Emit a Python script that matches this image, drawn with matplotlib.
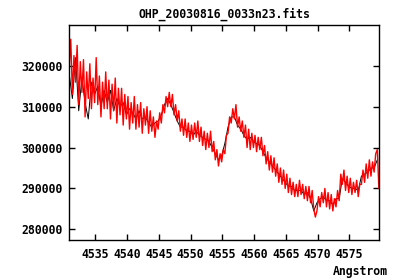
import numpy as np
import matplotlib
matplotlib.use('Agg')
import matplotlib.pyplot as plt

# spectrum, flux in thousands
WAVE_START = 4530.9
RED_STEP = 0.25
BLACK_STEP = 0.5

red_flux = [
    319.5, 326.5, 313.0, 322.5, 316.0, 325.0, 310.5, 321.0,
    313.5, 321.5, 307.5, 318.5, 312.0, 320.5, 309.5, 317.0,
    311.0, 322.0, 310.5, 317.5, 307.5, 316.0, 309.5, 318.5,
    309.5, 316.5, 307.0, 315.5, 309.0, 317.0, 306.0, 314.5,
    308.0, 314.5, 305.5, 313.0, 307.0, 312.5, 304.5, 311.0,
    306.0, 312.5, 304.5, 310.5, 305.0, 311.0, 303.5, 309.5,
    305.5, 310.0, 303.5, 309.0, 304.0, 307.5, 302.5, 306.5,
    304.5, 308.5, 306.0, 310.5, 308.5, 312.5, 310.0, 313.5,
    310.0, 313.0, 308.0, 310.5, 306.5, 309.0, 304.0, 307.0,
    303.0, 307.0, 302.5, 306.0, 301.5, 305.5, 302.0, 306.0,
    302.5, 306.5, 301.5, 305.0, 300.5, 304.0, 299.5, 303.5,
    300.0, 304.0, 299.0, 301.5, 297.0, 299.5, 295.5, 298.5,
    296.5, 299.5, 298.5, 303.0, 303.5, 307.5, 306.0, 309.5,
    307.0, 310.5, 305.0, 307.5, 304.0, 306.5, 302.5, 305.5,
    300.0, 304.5, 299.5, 303.5, 300.0, 303.0, 299.0, 302.5,
    299.5, 302.5, 298.0, 300.5, 296.0, 299.0, 294.5, 298.0,
    294.0, 297.5, 293.0, 296.0, 291.5, 295.0, 291.0, 294.5,
    290.0, 293.5, 289.0, 292.5, 288.5, 291.5, 288.0, 291.0,
    288.0, 292.0, 288.5, 291.0, 287.5, 290.5, 287.0, 290.5,
    286.5, 289.5, 285.0, 283.0, 284.5, 288.0, 285.5, 289.0,
    286.5, 290.0, 285.5, 289.0, 285.0, 288.5, 284.5, 287.5,
    285.5, 289.5, 287.0, 293.5, 291.0, 294.5, 289.5, 293.0,
    289.0, 292.5, 288.5, 291.5, 289.0, 292.0, 288.0, 291.0,
    291.0, 294.5, 291.5, 296.0, 292.5, 297.0, 293.0, 296.5,
    294.0, 298.5, 299.5, 290.0,
]

black_flux = [
    318, 312, 322, 309, 317, 311, 307, 316,
    313, 315, 310, 314, 311, 314, 309, 312,
    310, 311, 308, 309.5, 308.5, 307, 309, 307,
    307.5, 306, 305, 306, 306.5, 308, 310.5, 312,
    310.5, 308.5, 306.5, 305, 305, 304, 304, 303,
    304, 303, 302.5, 302, 301.5, 300, 298.5, 297,
    298, 301, 305, 307.5, 307.5, 305.5, 304.5, 303,
    302, 302.5, 301.5, 301, 300.5, 299, 297.5, 296.5,
    295.5, 294.5, 293.5, 292.5, 291.5, 290.5, 290.5, 289.5,
    289.5, 289.5, 288.5, 289, 287.5, 284.5, 286.5, 287.5,
    288, 287, 287, 286, 287.5, 287.5, 292.5, 291.5,
    290.5, 290, 290, 289.5, 293, 293.5, 294, 295,
    295, 297,
]

x_ticks = [4535, 4540, 4545, 4550, 4555, 4560, 4565, 4570, 4575]
y_ticks = [280000, 290000, 300000, 310000, 320000]

red_wave = WAVE_START + RED_STEP * np.arange(len(red_flux))
black_wave = WAVE_START + BLACK_STEP * np.arange(len(black_flux))

font = {'family': 'DejaVu Sans Mono', 'weight': 'bold', 'size': 8.3}

fig = plt.figure(figsize=(4.0, 2.8), dpi=100)
ax = fig.add_axes([0.173, 0.143, 0.775, 0.768])

ax.plot(black_wave, np.array(black_flux) * 1000, color='black', lw=0.7)
ax.plot(red_wave, np.array(red_flux) * 1000, color=(1, 0, 0), lw=1.0)

ax.set_xlim(4530.9, 4579.7)
ax.set_ylim(277400, 330000)
ax.set_xticks(x_ticks)
ax.set_yticks(y_ticks)
ax.set_xticklabels([str(t) for t in x_ticks], fontdict=font)
ax.set_yticklabels([str(t) for t in y_ticks], fontdict=font)
ax.tick_params(direction='in', length=4, width=1, top=True, right=True)
ax.tick_params(axis='x', pad=6)
ax.tick_params(axis='y', pad=5)
for s in ax.spines.values():
    s.set_linewidth(1)

ax.set_title('OHP_20030816_0033n23.fits', fontdict=font, pad=5)
fig.text(0.97, 0.032, 'Angstrom', ha='right', va='center', **font)

fig.savefig('out.png', dpi=100)
